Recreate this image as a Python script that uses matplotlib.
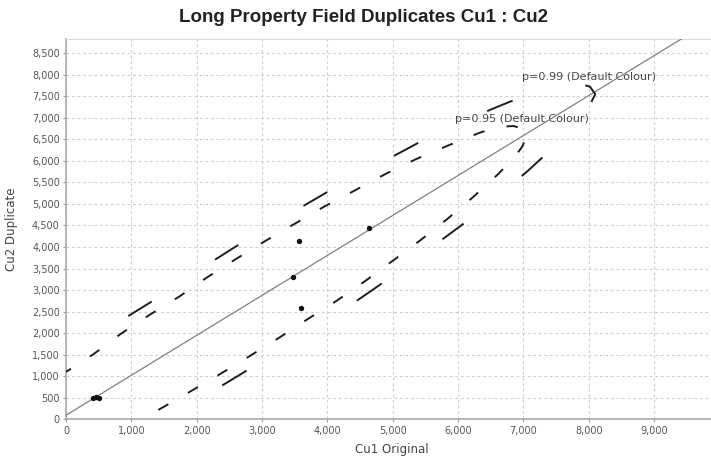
import numpy as np
import matplotlib.pyplot as plt
from matplotlib.ticker import FuncFormatter, MultipleLocator

plt.rcParams['font.family'] = ['DejaVu Sans']
plt.rcParams['lines.scale_dashes'] = False

# duplicate pairs (Cu1 original, Cu2 duplicate)
cu1 = [420, 465, 505, 3480, 3563, 3594, 4630]
cu2 = [505, 510, 505, 3305, 4134, 2585, 4440]

# fitted line end points
fit_x = [0, 9600]
fit_y = [93, 9002]

# p=0.95 ellipse, upper arc (left to right) and lower arc (right to left)
e95_upper_x = [0, 414, 840, 1270, 1740, 2150, 2600, 3050, 3500, 3966, 4425, 4885, 5357, 5838, 6315, 6600, 6850, 7000, 7066]
e95_upper_y = [1100, 1504, 1985, 2415, 2856, 3286, 3720, 4140, 4540, 4951, 5318, 5693, 6041, 6352, 6645, 6790, 6810, 6740, 6602]
e95_lower_x = [7040, 6980, 6880, 6621, 6232, 5842, 5429, 5005, 4578, 4145, 3710, 3241, 2791, 2332, 1878, 1426, 1200, 1000]
e95_lower_y = [6530, 6330, 6120, 5705, 5163, 4660, 4164, 3686, 3210, 2755, 2337, 1873, 1448, 1026, 623, 228, 10, -180]

# p=0.99 ellipse
e99_upper_x = [0, 379, 912, 1495, 2004, 2562, 3120, 3678, 4255, 4825, 5395, 5980, 6577, 7168, 7522, 7832, 8018, 8100]
e99_upper_y = [1447, 1825, 2359, 2905, 3439, 3977, 4498, 4994, 5503, 5958, 6423, 6855, 7241, 7604, 7784, 7808, 7722, 7550]
e99_lower_x = [8100, 8067, 7993, 7869, 7548, 7065, 6582, 6070, 5544, 5014, 4477, 3938, 3356, 2798, 2229, 1666, 1106]
e99_lower_y = [7550, 7455, 7213, 6953, 6438, 5766, 5142, 4527, 3935, 3344, 2780, 2262, 1687, 1160, 636, 137, -264]

fig = plt.figure(figsize=(7.11, 4.57), dpi=100)
ax = fig.add_axes([0.0928, 0.0826, 0.9072, 0.8315])

ax.plot(fit_x, fit_y, color='#808080', lw=0.9, zorder=3)

dash_kw = dict(color='#1e1e1e', lw=1.4, dash_capstyle='butt', zorder=4)
ax.plot(e95_upper_x, e95_upper_y, linestyle=(4.14, (8.3, 16.3)), **dash_kw)
ax.plot(e95_lower_x, e95_lower_y, linestyle=(21.1, (8.3, 16.3)), **dash_kw)
ax.plot(e99_upper_x, e99_upper_y, linestyle=(20.8, (19.8, 54.7)), **dash_kw)
ax.plot(e99_lower_x, e99_lower_y,
        linestyle=(0, (6.3, 53.7, 20.0, 54.1, 18.9, 54.1, 21.8, 94.0, 20.5, 288)), **dash_kw)

ax.scatter(cu1, cu2, s=15, color='#111111', marker='o', zorder=5, linewidths=0)

ax.text(6971, 7957, 'p=0.99 (Default Colour)', fontsize=8, color='#484848', va='center', zorder=2)
ax.text(5951, 6967, 'p=0.95 (Default Colour)', fontsize=8, color='#484848', va='center', zorder=2)

ax.set_xlim(0, 9870)
ax.set_ylim(0, 8825)
ax.xaxis.set_major_locator(MultipleLocator(1000))
ax.yaxis.set_major_locator(MultipleLocator(500))
ax.xaxis.set_major_formatter(FuncFormatter(lambda v, p: '{:,.0f}'.format(v) if v <= 9000 else ''))
ax.yaxis.set_major_formatter(FuncFormatter(lambda v, p: '{:,.0f}'.format(v)))

ax.grid(True, color='#cfcfcf', linestyle=(0, (2, 2)), lw=0.8)
ax.set_axisbelow(True)
ax.spines['right'].set_visible(False)
ax.spines['top'].set_color('#dddddd')
ax.spines['left'].set_color('#aaaaaa')
ax.spines['bottom'].set_color('#aaaaaa')
ax.spines['left'].set_linewidth(1.2)
ax.spines['bottom'].set_linewidth(1.2)
ax.tick_params(axis='both', labelsize=7, labelcolor='#555555', color='#999999',
               length=2.5, width=0.8, pad=2)

ax.set_xlabel('Cu1 Original', fontsize=8.5, color='#444444')
ax.set_ylabel('Cu2 Duplicate', fontsize=8.5, color='#444444')
ax.xaxis.set_label_coords(0.505, -0.062)
ax.yaxis.set_label_coords(-0.075, 0.5)
fig.text(0.511, 0.961, 'Long Property Field Duplicates Cu1 : Cu2', ha='center', va='center',
         fontsize=13.5, fontweight='bold', color='#222222', family='Liberation Sans')

fig.savefig('out.png', dpi=100)
